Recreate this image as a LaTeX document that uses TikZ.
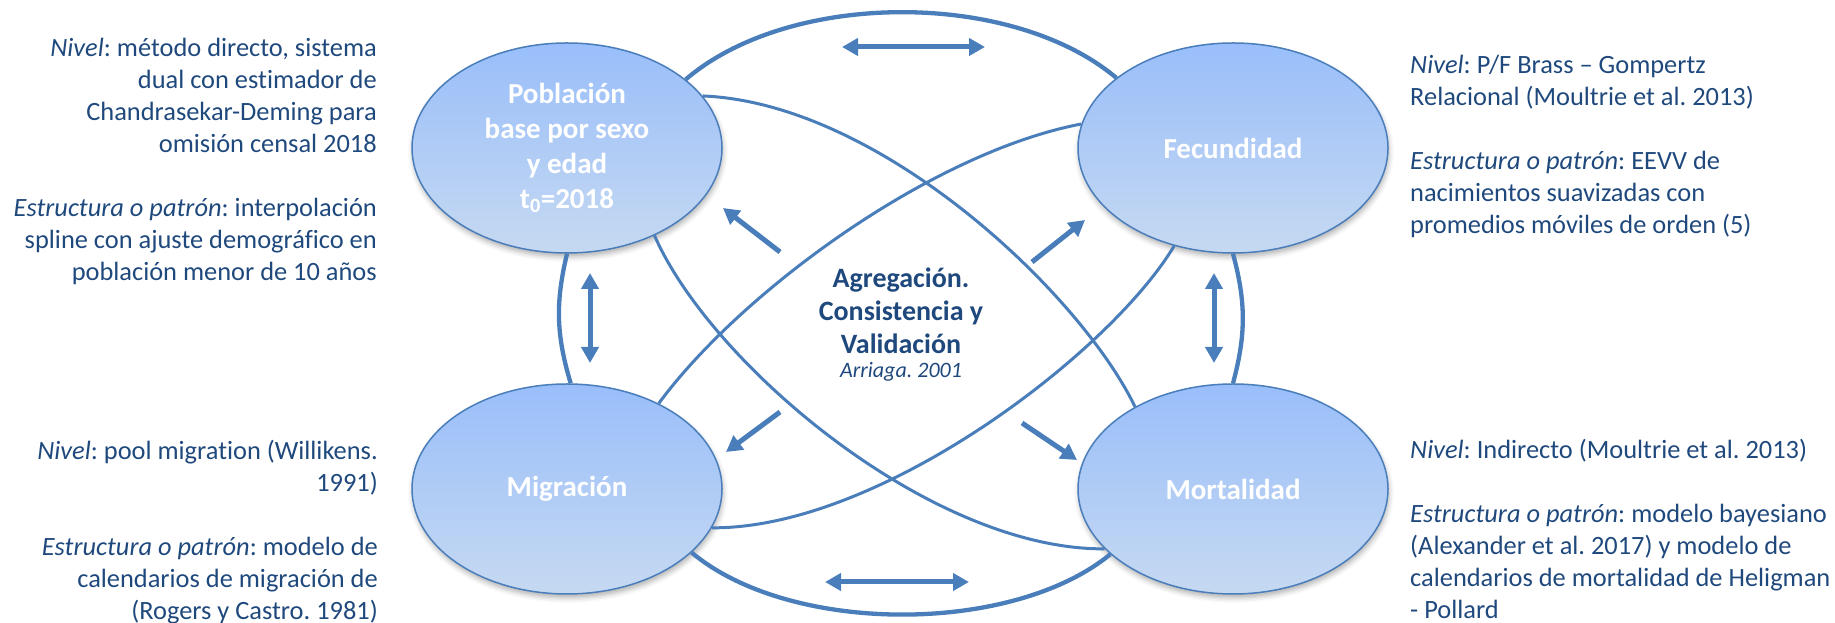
\documentclass[tikz,border=0pt]{standalone}
\usepackage{fontspec}
\setmainfont{Carlito}[Ligatures=NoCommon]
\usetikzlibrary{arrows.meta,shapes.geometric,shadows.blur}
\definecolor{linea}{RGB}{74,126,187}
\definecolor{texto}{RGB}{31,73,125}
\definecolor{elipsearriba}{RGB}{153,190,250}
\definecolor{elipseabajo}{RGB}{198,217,241}
\frenchspacing

\begin{document}
\begin{tikzpicture}[x=1pt, y=1pt,
	>={Triangle[length=16pt,width=17pt]},
	etapa/.style={ellipse, draw=linea, line width=1.5pt, top color=elipsearriba, bottom color=elipseabajo,
		minimum width=310pt, minimum height=210pt, inner sep=0pt, text=white, align=center,
		font=\fontsize{29}{35}\selectfont\bfseries,
		blur shadow={shadow xshift=1pt, shadow yshift=-4pt, shadow blur radius=5pt, shadow opacity=30}},
	nota/.style={text=texto, inner sep=0pt, font=\fontsize{26.4}{32}\selectfont},
	arco/.style={draw=linea, line width=4.3pt},
	curva/.style={draw=linea, line width=3pt},
	flecha/.style={draw=linea, line width=5pt}]
	\useasboundingbox (0,0) rectangle (1835,623);

	% Define the nodes with specific positions
	\node[etapa] (pob) at (567,475) {Población\\ base por sexo\\ y edad\\ t\textsubscript{0}=2018};
	\node[etapa] (fec) at (1233,475) {Fecundidad};
	\node[etapa] (mig) at (567,134) {Migración};
	\node[etapa] (mor) at (1233,134) {Mortalidad};

	\node[text=texto, align=center, font=\fontsize{28}{33}\selectfont\bfseries] (agr) at (901,312)
		{Agregación.\\ Consistencia y\\ Validación};
	\node[text=texto, font=\fontsize{22}{26}\selectfont\itshape] (arr) at (901,251) {Arriaga. 2001};

	% Side notes
	\node[nota, align=right, anchor=east] (npob) at (377,462) {\emph{Nivel}: método directo, sistema\\
		dual con estimador de\\ Chandrasekar-Deming para\\ omisión censal 2018\\[32pt]
		\emph{Estructura o patrón}: interpolación\\ spline con ajuste demográfico en\\ población menor de 10 años};
	\node[nota, align=right, anchor=east] (nmig) at (378,91) {\emph{Nivel}: pool migration (Willikens.\\
		1991)\\[32pt] \emph{Estructura o patrón}: modelo de\\ calendarios de migración de\\ (Rogers y Castro. 1981)};
	\node[nota, align=left, anchor=west] (nfec) at (1410,477) {\emph{Nivel}: P/F Brass – Gompertz\\
		Relacional (Moultrie et al. 2013)\\[32pt] \emph{Estructura o patrón}: EEVV de\\
		nacimientos suavizadas con\\ promedios móviles de orden (5)};
	\node[nota, align=left, anchor=west] (nmor) at (1410,94) {\emph{Nivel}: Indirecto (Moultrie et al. 2013)\\[32pt]
		\emph{Estructura o patrón}: modelo bayesiano\\ (Alexander et al. 2017) y modelo de\\
		calendarios de mortalidad de Heligman\\ - Pollard};

	% Draw the curves between the ellipses
	\draw[arco] (pob.30) .. controls (790,633) and (1012,633) .. (fec.149);
	\draw[arco] (mig.-27) .. controls (790,-12) and (1012,-12) .. (mor.208);
	\draw[arco] (pob.270) to[bend right=15] (mig.88);
	\draw[arco] (fec.270) to[bend left=15] (mor.90);
	\draw[curva] (pob.21) .. controls (880,520) and (1080,330) .. (mor.140);
	\draw[curva] (fec.171) .. controls (930,470) and (740,330) .. (mig.43);
	\draw[curva] (pob.315) .. controls (710,260) and (930,73) .. (mor.205);
	\draw[curva] (fec.239) .. controls (1110,270) and (880,94) .. (mig.345);

	% Arrows
	\coordinate (s1) at (842,576); \coordinate (e1) at (985,576);
	\coordinate (s2) at (825,41);  \coordinate (e2) at (969,41);
	\coordinate (s3) at (590,350); \coordinate (e3) at (590,260);
	\coordinate (s4) at (1214,350); \coordinate (e4) at (1214,260);
	\draw[flecha, <->] (s1) -- (e1);
	\draw[flecha, <->] (s2) -- (e2);
	\draw[flecha, <->] (s3) -- (e3);
	\draw[flecha, <->] (s4) -- (e4);
	\coordinate (t1) at (780,371); \coordinate (h1) at (723,415);
	\coordinate (t2) at (1032,361); \coordinate (h2) at (1085,403);
	\coordinate (t3) at (780,211); \coordinate (h3) at (726,171);
	\coordinate (t4) at (1022,200); \coordinate (h4) at (1077,163);
	\draw[flecha, ->] (t1) -- (h1);
	\draw[flecha, ->] (t2) -- (h2);
	\draw[flecha, ->] (t3) -- (h3);
	\draw[flecha, ->] (t4) -- (h4);
\end{tikzpicture}
\end{document}
